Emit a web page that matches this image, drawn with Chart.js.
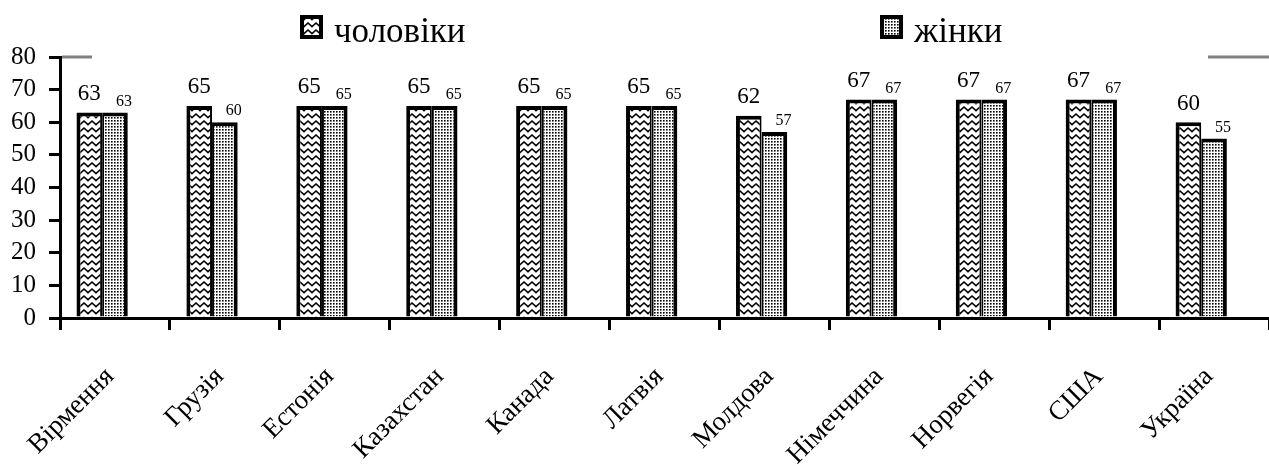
<!DOCTYPE html>
<html>
<head>
<meta charset="utf-8">
<script src="https://cdn.jsdelivr.net/npm/chart.js@4.4.0/dist/chart.umd.min.js"></script>
<style>body{margin:0;background:#fff}</style>
</head>
<body>
<canvas id="myChart" width="1269" height="466"></canvas>
<script>
let categories = ['Вірмення', 'Грузія', 'Естонія', 'Казахстан', 'Канада', 'Латвія', 'Молдова', 'Німеччина', 'Норвегія', 'США', 'Україна'];
let men = [63, 65, 65, 65, 65, 65, 62, 67, 67, 67, 60];
let women = [63, 60, 65, 65, 65, 65, 57, 67, 67, 67, 55];
let seriesNames = ['чоловіки', 'жінки'];
let yTicks = [0, 10, 20, 30, 40, 50, 60, 70, 80];

let ctx = document.getElementById('myChart').getContext('2d');
const serif = 'Liberation Serif';

function makePattern(w, h, draw) {
    let c = document.createElement('canvas');
    c.width = w;
    c.height = h;
    let g = c.getContext('2d');
    g.fillStyle = '#fff';
    g.fillRect(0, 0, w, h);
    draw(g);
    return ctx.createPattern(c, 'repeat');
}

// zigzag fill for men, dots for women
let wave = makePattern(8, 7, g => {
    g.strokeStyle = '#000';
    g.lineWidth = 1.6;
    g.beginPath();
    g.moveTo(-1, 6.5);
    g.lineTo(4, 2);
    g.lineTo(9, 6.5);
    g.stroke();
});
let dots = makePattern(3, 3, g => {
    g.fillStyle = '#000';
    g.fillRect(0, 0, 1.6, 1.6);
});

// grey top line, broken where the legend sits
let topLine = {
    id: 'topLine',
    beforeDatasetsDraw(chart) {
        let {ctx, chartArea, scales: {y}} = chart;
        let py = y.getPixelForValue(80);
        ctx.save();
        ctx.strokeStyle = '#808080';
        ctx.lineWidth = 3;
        ctx.beginPath();
        ctx.moveTo(chartArea.left + 2, py);
        ctx.lineTo(92, py);
        ctx.moveTo(1208, py);
        ctx.lineTo(chartArea.right, py);
        ctx.stroke();
        ctx.restore();
    }
};

let valueLabels = {
    id: 'valueLabels',
    afterDatasetsDraw(chart) {
        let c = chart.ctx;
        c.save();
        c.fillStyle = '#000';
        c.textAlign = 'center';
        c.textBaseline = 'bottom';
        [[0, 23, 0, 7], [1, 16, 9, 3]].forEach(([i, size, dx, gap]) => {
            c.font = size + 'px "' + serif + '"';
            chart.getDatasetMeta(i).data.forEach((bar, j) => {
                c.fillText(chart.data.datasets[i].data[j], bar.x + dx, bar.y - gap);
            });
        });
        c.restore();
    }
};

let legendItems = {
    id: 'legendItems',
    afterDraw(chart) {
        let c = chart.ctx;
        c.save();
        [[300, 0], [880, 1]].forEach(([x, i]) => {
            let ds = chart.data.datasets[i];
            c.fillStyle = ds.backgroundColor;
            c.fillRect(x, 15, 23, 24);
            c.strokeStyle = '#000';
            c.lineWidth = 4;
            c.strokeRect(x + 2, 17, 19, 20);
            c.fillStyle = '#000';
            c.font = '35px "' + serif + '"';
            c.textAlign = 'left';
            c.textBaseline = 'alphabetic';
            c.fillText(ds.label, x + 34, 42);
        });
        c.restore();
    }
};

let myChart = new Chart(ctx, {
    type: 'bar',
    data: {
        labels: categories,
        datasets: [{
            label: seriesNames[0],
            data: men,
            backgroundColor: wave,
            borderColor: '#000',
            borderWidth: {top: 4, left: 4, right: 2, bottom: 0},
            borderSkipped: false
        }, {
            label: seriesNames[1],
            data: women,
            backgroundColor: dots,
            borderColor: '#000',
            borderWidth: {top: 4, left: 2, right: 4, bottom: 0},
            borderSkipped: false
        }, {
            // empty slot so the pair sits left of the category centre
            label: '',
            data: categories.map(() => null),
            backgroundColor: 'rgba(0,0,0,0)',
            borderWidth: 0
        }]
    },
    options: {
        responsive: false,
        animation: false,
        layout: {padding: {top: 57, right: 0, left: 0, bottom: 0}},
        datasets: {bar: {categoryPercentage: 0.7, barPercentage: 1}},
        plugins: {
            legend: {display: false},
            tooltip: {enabled: false}
        },
        scales: {
            x: {
                grid: {drawOnChartArea: false, color: '#000', lineWidth: 3, tickLength: 12, offset: true},
                border: {color: '#000', width: 3},
                ticks: {
                    color: '#000',
                    font: {family: serif, size: 27},
                    minRotation: 45,
                    maxRotation: 45,
                    autoSkip: false,
                    labelOffset: -5,
                    padding: 31
                },
                afterFit: s => { s.height = 148; }
            },
            y: {
                min: 0,
                max: 80,
                grid: {drawOnChartArea: false, color: '#000', lineWidth: 3, tickLength: 11},
                border: {color: '#000', width: 3},
                ticks: {color: '#000', font: {family: serif, size: 25}, padding: 13, autoSkip: false},
                afterBuildTicks: s => { s.ticks = yTicks.map(v => ({value: v})); },
                afterFit: s => { s.width = 60; }
            }
        }
    },
    plugins: [topLine, valueLabels, legendItems]
});
</script>
</body>
</html>
